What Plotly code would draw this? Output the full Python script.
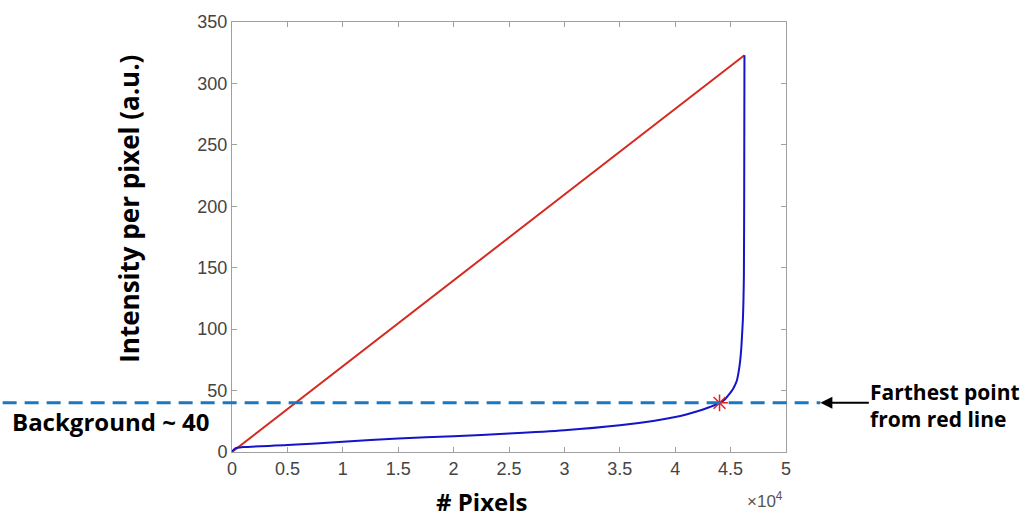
import plotly.graph_objects as go

# Sorted per-pixel intensity curve (pixel count vs intensity)
pixel_counts = [0, 300, 1000, 5000, 10000, 15000, 20000, 25000, 30000, 35000,
                38000, 40000, 41000, 42000, 43000, 44000, 44500, 44900, 45200,
                45400, 45560, 45720, 45860, 45960, 46040, 46110, 46160, 46200,
                46230, 46250]
intensity = [0.5, 3, 4, 5.6, 8.3, 11, 12.8, 15, 17.7, 21.8,
             25.3, 28.5, 30.6, 33.1, 36.2, 40, 43, 47.3, 51,
             54.5, 58, 65, 74, 84, 96, 108, 123, 145,
             220, 323]

# Chord from first to last point of the curve
chord_x = [0, 46250]
chord_y = [0, 323]

# Point on the curve farthest from the chord
knee_x = [44000]
knee_y = [40]
background_level = 40

x_tickvals = [0, 5000, 10000, 15000, 20000, 25000, 30000, 35000, 40000, 45000, 50000]
x_ticktext = ["0", "0.5", "1", "1.5", "2", "2.5", "3", "3.5", "4", "4.5", "5"]
y_tickvals = [0, 50, 100, 150, 200, 250, 300, 350]

fig = go.Figure()
fig.add_trace(go.Scatter(x=chord_x, y=chord_y, mode="lines",
                         line=dict(color="#d42a20", width=2), showlegend=False))
fig.add_trace(go.Scatter(x=pixel_counts, y=intensity, mode="lines",
                         line=dict(color="#1414c8", width=2, shape="spline", smoothing=0.8),
                         showlegend=False))
fig.add_trace(go.Scatter(x=knee_x, y=knee_y, mode="markers",
                         marker=dict(symbol="asterisk-open", size=14, color="#e0202a",
                                     line=dict(color="#e0202a", width=1.5)),
                         showlegend=False))

# Horizontal dashed background level, extending past the axes
fig.add_shape(type="line", xref="paper", yref="y",
              x0=-0.414, x1=1.062, y0=background_level, y1=background_level,
              line=dict(color="#1a78c2", width=3, dash="14px,8px"))

axis_common = dict(showline=True, linecolor="#a0a0a0", linewidth=1,
                   mirror="ticks", ticks="inside", ticklen=5, tickcolor="#a0a0a0",
                   showgrid=False, zeroline=False,
                   tickfont=dict(family="Liberation Sans, Arial", size=18, color="#444444"))

fig.update_layout(
    width=1027, height=517,
    margin=dict(l=232, r=241, t=18, b=65),
    plot_bgcolor="white", paper_bgcolor="white",
    xaxis=dict(range=[0, 50000], tickvals=x_tickvals, ticktext=x_ticktext, **axis_common),
    yaxis=dict(range=[0, 350], tickvals=y_tickvals, **axis_common),
)

bold = dict(family="Open Sans, Noto Sans, sans-serif", color="black")
fig.add_annotation(xref="paper", yref="paper", x=-0.185, y=0.5645,
                   xanchor="center", yanchor="middle",
                   text="<b>Intensity per pixel (a.u.)</b>", textangle=-90,
                   showarrow=False, font=dict(size=26, **bold))
fig.add_annotation(xref="paper", yref="paper", x=0.451, y=-0.115,
                   xanchor="center", yanchor="middle",
                   text="<b># Pixels</b>", showarrow=False, font=dict(size=24, **bold))
fig.add_annotation(xref="paper", yref="paper", x=0.962, y=-0.112,
                   xanchor="center", yanchor="middle",
                   text="×10<sup>4</sup>", showarrow=False,
                   font=dict(family="Liberation Sans, Arial", size=17, color="#555555"))
fig.add_annotation(xref="paper", yref="paper", x=-0.4016, y=0.070,
                   xanchor="left", yanchor="middle",
                   text="<b>Background ~ 40</b>", showarrow=False, font=dict(size=24, **bold))
fig.add_annotation(xref="paper", yref="paper", x=1.148, y=0.108,
                   xanchor="left", yanchor="middle",
                   align="left", text="<b>Farthest point<br>from red line</b>",
                   showarrow=False, font=dict(size=21, **bold))
# Arrow pointing back at the dashed line end
fig.add_annotation(xref="paper", yref="y", x=1.062, y=background_level,
                   ax=50, ay=0, text="", showarrow=True,
                   arrowhead=2, arrowsize=1.2, arrowwidth=2, arrowcolor="black")

fig.write_html("out.html")
